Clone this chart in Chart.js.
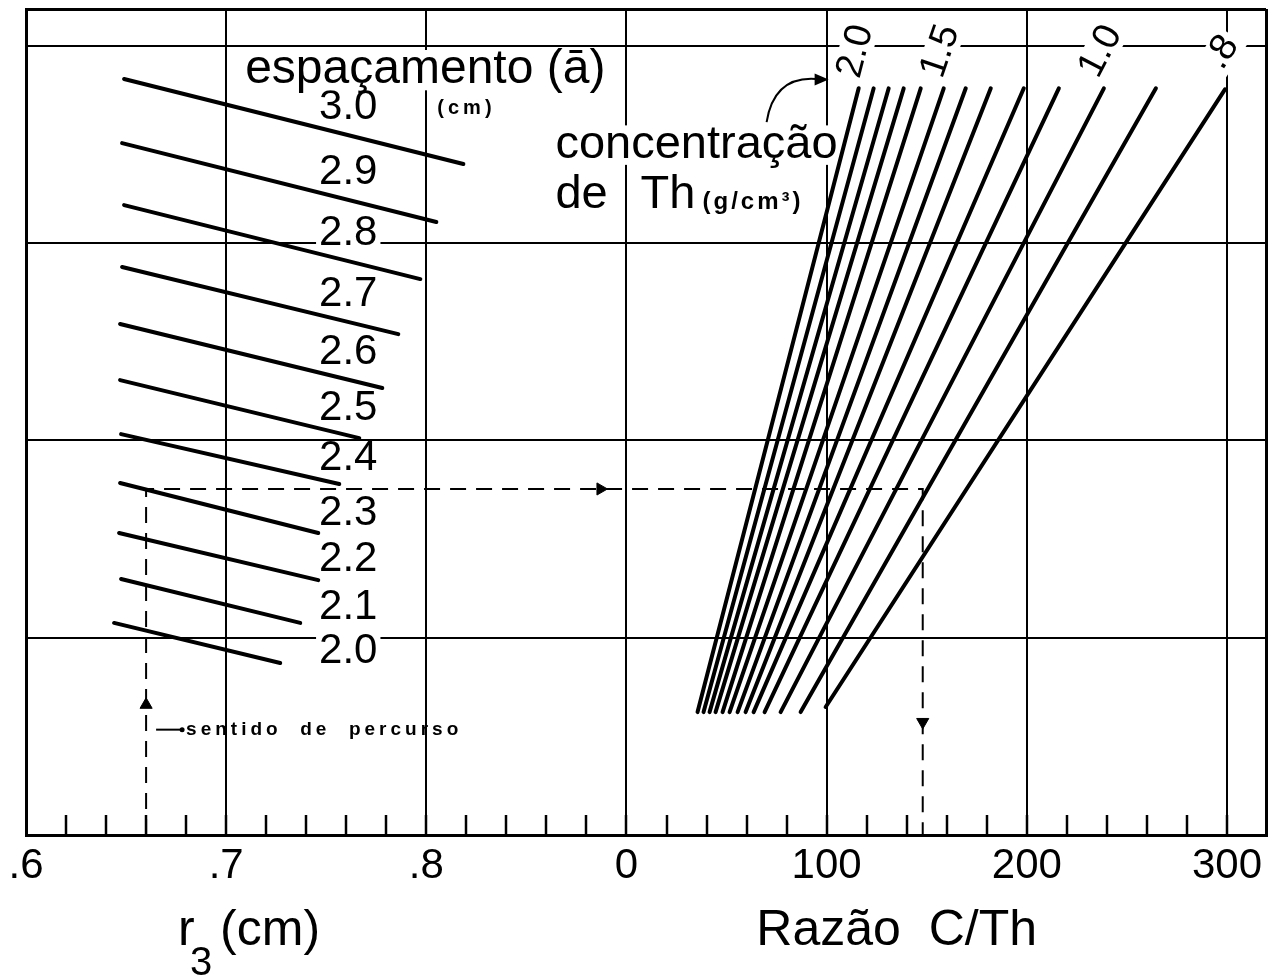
<!DOCTYPE html>
<html>
<head>
<meta charset="utf-8">
<script src="https://cdn.jsdelivr.net/npm/chart.js@4.4.0/dist/chart.umd.min.js"></script>
<style>
  html, body { margin: 0; padding: 0; background: #fff; }
  #wrap { width: 1285px; height: 980px; }
</style>
</head>
<body>
<div id="wrap"><canvas id="nomograma"></canvas></div>
<script>
// curvas de espaçamento (a) : r3 (cm) x ordenada interna do nomograma
const espacamentos = ['3.0', '2.9', '2.8', '2.7', '2.6', '2.5', '2.4', '2.3', '2.2', '2.1', '2.0'];
const r3Inicio = [0.649, 0.648, 0.649, 0.648, 0.647, 0.647, 0.6475, 0.647, 0.6465, 0.6475, 0.644];
const ordInicio = [3.832, 3.507, 3.193, 2.879, 2.590, 2.306, 2.032, 1.784, 1.531, 1.298, 1.075];
const r3Fim = [0.8185, 0.805, 0.797, 0.786, 0.778, 0.7665, 0.7565, 0.746, 0.746, 0.737, 0.727];
const ordFim = [3.401, 3.107, 2.818, 2.539, 2.266, 2.012, 1.779, 1.531, 1.292, 1.075, 0.872];

// curvas de concentração de Th (g/cm3) : razão C/Th x ordenada
const concentracoes = ['2.0', '1.9', '1.8', '1.7', '1.6', '1.5', '1.4', '1.3', '1.2', '1.1', '1.0', '0.9', '0.8'];
const rotulosConc = ['2.0', '', '', '', '', '1.5', '', '', '', '', '1.0', '', '.8'];
const razaoBase = [35.5, 38.5, 41.5, 44.5, 48, 51.5, 55.5, 59.5, 63.5, 69, 77, 87, 99.5];
const ordBase = [0.623, 0.623, 0.623, 0.623, 0.623, 0.623, 0.623, 0.623, 0.623, 0.623, 0.623, 0.623, 0.649];
const razaoTopo = [116, 123.5, 131, 138.5, 147, 158.5, 169.5, 182, 198.5, 216, 238.5, 264.5, 299];
const ordTopo = [3.785, 3.785, 3.785, 3.785, 3.785, 3.785, 3.785, 3.785, 3.785, 3.785, 3.785, 3.785, 3.78];

// exemplo de percurso (linha tracejada)
const percursoR3 = 0.66;
const percursoRazao = 148;
const percursoOrd = 1.754;
const setaR3 = [0.887, 0.66];
const setaOrd = [1.754, 0.66];
const setaRazao = 148;
const setaRazaoOrd = 0.573;

// eixos
const ticksR3 = ['.6', '.7', '.8'];
const ticksRazao = ['0', '100', '200', '300'];
const ordMax = 4.187;
const xMax = 619.5;

// r3 ocupa 0..300 e C/Th ocupa 300..600 na mesma escala horizontal
const deR3 = r => (r - 0.6) * 1000;
const deRazao = c => 300 + c;

const FONTE = '"Liberation Sans", Arial, sans-serif';
const PRETO = '#000';

const datasets = [];
espacamentos.forEach((a, i) => {
  datasets.push({
    label: 'a = ' + a,
    data: [{x: deR3(r3Inicio[i]), y: ordInicio[i]}, {x: deR3(r3Fim[i]), y: ordFim[i]}],
    borderColor: PRETO, borderWidth: 4, pointRadius: 0, borderCapStyle: 'round'
  });
});
concentracoes.forEach((c, i) => {
  datasets.push({
    label: 'Th ' + c,
    data: [{x: deRazao(razaoBase[i]), y: ordBase[i]}, {x: deRazao(razaoTopo[i]), y: ordTopo[i]}],
    borderColor: PRETO, borderWidth: 4, pointRadius: 0, borderCapStyle: 'round'
  });
});
datasets.push({
  label: 'percurso',
  data: [
    {x: deR3(percursoR3), y: 0}, {x: deR3(percursoR3), y: percursoOrd},
    {x: deRazao(percursoRazao), y: percursoOrd}, {x: deRazao(percursoRazao), y: 0}
  ],
  borderColor: PRETO, borderWidth: 2, borderDash: [16, 10], pointRadius: 0
});
datasets.push({
  label: 'setas',
  data: [
    {x: deR3(setaR3[0]), y: setaOrd[0]},
    {x: deR3(setaR3[1]), y: setaOrd[1]},
    {x: deRazao(setaRazao), y: setaRazaoOrd}
  ],
  showLine: false, pointStyle: 'triangle', pointRadius: 7,
  pointRotation: [90, 0, 180], pointBackgroundColor: PRETO, pointBorderColor: PRETO
});

const xTicks = [];
for (let v = 0; v <= 600; v += 20) xTicks.push(v);
xTicks.push(xMax);

function rotuloX(v) {
  if (v % 100 !== 0 || v > 600) return '';
  return v < 300 ? ticksR3[v / 100] : ticksRazao[(v - 300) / 100];
}

function texto(ctx, str, x, y, font, align, fundo) {
  ctx.font = font;
  ctx.textAlign = align || 'left';
  ctx.textBaseline = 'middle';
  if (fundo) {
    const w = ctx.measureText(str).width;
    const h = parseInt(font.match(/(\d+)px/)[1], 10);
    const x0 = align === 'center' ? x - w / 2 : x;
    ctx.fillStyle = '#fff';
    ctx.fillRect(x0 - 3, y - h * 0.42, w + 6, h * 0.84);
  }
  ctx.fillStyle = PRETO;
  ctx.fillText(str, x, y);
}

const anotacoes = {
  id: 'anotacoes',
  beforeDatasetsDraw(chart) {
    const ctx = chart.ctx;
    const xs = chart.scales.x, ys = chart.scales.y;
    const px = u => xs.getPixelForValue(u);
    const py = v => ys.getPixelForValue(v);
    ctx.save();
    // rótulos do espaçamento
    espacamentos.forEach((a, i) => {
      const m = (ordFim[i] - ordInicio[i]) / (r3Fim[i] - r3Inicio[i]);
      const o = ordInicio[i] + m * (0.76 - r3Inicio[i]);
      texto(ctx, a, px(deR3(0.761)), py(o) - 27, '42px ' + FONTE, 'center', true);
    });
    texto(ctx, 'espaçamento (ā)', px(deR3(0.7095)), py(3.877), '48px ' + FONTE, 'left', true);
    ctx.letterSpacing = '4px';
    texto(ctx, '(cm)', px(deR3(0.8055)), py(3.685), 'bold 20px ' + FONTE, 'left', false);
    ctx.letterSpacing = '0px';

    texto(ctx, 'concentração', px(deR3(0.8645)), py(3.497), '47px ' + FONTE, 'left', true);
    texto(ctx, 'de', px(deR3(0.8645)), py(3.244), '47px ' + FONTE, 'left', true);
    texto(ctx, 'Th', px(deRazao(7)), py(3.244), '47px ' + FONTE, 'left', true);
    ctx.letterSpacing = '3px';
    texto(ctx, '(g/cm³)', px(deRazao(38)), py(3.205), 'bold 24px ' + FONTE, 'left', false);
    ctx.letterSpacing = '0px';

    // seta curva apontando para 2.0
    const x0 = px(deRazao(70)), y0 = py(3.614);
    const x1 = px(deRazao(100)), y1 = py(3.83);
    ctx.strokeStyle = PRETO;
    ctx.lineWidth = 2;
    ctx.beginPath();
    ctx.moveTo(x0, y0);
    ctx.quadraticCurveTo(px(deRazao(74)), py(3.86), x1 - 6, y1);
    ctx.stroke();
    ctx.beginPath();
    ctx.moveTo(x1 + 2, y1);
    ctx.lineTo(x1 - 12, y1 - 6);
    ctx.lineTo(x1 - 12, y1 + 6);
    ctx.closePath();
    ctx.fillStyle = PRETO;
    ctx.fill();

    // sentido de percurso
    const sx = px(deR3(percursoR3)) + 10, sy = py(0.534);
    ctx.lineWidth = 2;
    ctx.beginPath();
    ctx.moveTo(sx, sy);
    ctx.lineTo(sx + 26, sy);
    ctx.stroke();
    ctx.beginPath();
    ctx.arc(sx + 26, sy, 2.5, 0, Math.PI * 2);
    ctx.fill();
    ctx.letterSpacing = '4px';
    texto(ctx, 'sentido  de  percurso', sx + 30, sy, 'bold 19px ' + FONTE, 'left', false);
    ctx.letterSpacing = '0px';
    ctx.restore();
  },
  afterDatasetsDraw(chart) {
    const ctx = chart.ctx;
    const xs = chart.scales.x, ys = chart.scales.y;
    ctx.save();
    // rótulos inclinados da concentração
    concentracoes.forEach((c, i) => {
      if (!rotulosConc[i]) return;
      const bx = xs.getPixelForValue(deRazao(razaoBase[i])), by = ys.getPixelForValue(ordBase[i]);
      const tx = xs.getPixelForValue(deRazao(razaoTopo[i])), ty = ys.getPixelForValue(ordTopo[i]);
      const ang = Math.atan2(ty - by, tx - bx);
      ctx.save();
      ctx.translate(tx - 3, ty - 37);
      ctx.rotate(ang);
      ctx.font = '38px ' + FONTE;
      const w = ctx.measureText(rotulosConc[i]).width;
      ctx.fillStyle = '#fff';
      ctx.fillRect(-w / 2 - 4, -17, w + 8, 34);
      ctx.fillStyle = PRETO;
      ctx.textAlign = 'center';
      ctx.textBaseline = 'middle';
      ctx.fillText(rotulosConc[i], 0, 0);
      ctx.restore();
    });
    // títulos dos eixos
    const yt = xs.top + 110;
    const rx = xs.getPixelForValue(deR3(0.676));
    ctx.fillStyle = PRETO;
    ctx.textBaseline = 'alphabetic';
    ctx.textAlign = 'left';
    ctx.font = '50px ' + FONTE;
    ctx.fillText('r', rx, yt);
    ctx.font = '40px ' + FONTE;
    ctx.fillText('3', rx + 12, yt + 30);
    ctx.font = '50px ' + FONTE;
    ctx.fillText('(cm)', rx + 42, yt);
    ctx.textAlign = 'center';
    ctx.fillText('Razão  C/Th', xs.getPixelForValue(deRazao(135)), yt);
    ctx.restore();
  }
};

new Chart(document.getElementById('nomograma'), {
  type: 'line',
  data: { datasets },
  options: {
    responsive: true,
    maintainAspectRatio: false,
    animation: false,
    layout: { padding: { left: 26, right: 19, top: 9, bottom: 0 } },
    plugins: { legend: { display: false }, tooltip: { enabled: false } },
    scales: {
      x: {
        type: 'linear',
        min: 0,
        max: xMax,
        afterBuildTicks: s => { s.ticks = xTicks.map(v => ({value: v})); },
        afterFit: s => { s.height = 145; s.paddingLeft = 0; s.paddingRight = 0; },
        grid: {
          color: c => (c.tick && (c.tick.value % 100 === 0 || c.tick.value === xMax)) ? PRETO : 'rgba(0,0,0,0)',
          lineWidth: c => {
            if (!c.tick) return 0;
            if (c.tick.value === 0 || c.tick.value === xMax) return 3;
            return c.tick.value % 100 === 0 ? 2 : 0;
          },
          tickLength: -20,
          tickColor: PRETO,
          tickWidth: 2.5
        },
        border: { display: true, color: PRETO, width: 3 },
        ticks: {
          autoSkip: false,
          maxRotation: 0,
          padding: 26,
          color: PRETO,
          font: { family: FONTE, size: 42 },
          callback: v => rotuloX(v)
        }
      },
      y: {
        type: 'linear',
        min: 0,
        max: ordMax,
        afterBuildTicks: s => { s.ticks = [0, 1, 2, 3, 4, ordMax].map(v => ({value: v})); },
        afterFit: s => { s.width = 0; s.paddingTop = 0; s.paddingBottom = 0; },
        grid: {
          color: PRETO,
          lineWidth: c => (c.tick && c.tick.value === ordMax) ? 3 : 2,
          drawTicks: false
        },
        border: { display: true, color: PRETO, width: 3 },
        ticks: { display: false }
      }
    }
  },
  plugins: [anotacoes]
});
</script>
</body>
</html>
